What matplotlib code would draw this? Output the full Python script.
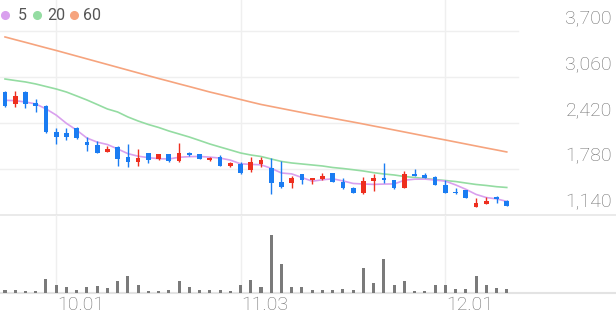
import numpy as np
import pandas as pd
import matplotlib
matplotlib.use('Agg')
import matplotlib.pyplot as plt

plt.rcParams['font.family'] = ['Roboto', 'DejaVu Sans']

# daily candles (50 sessions)
opens = [2851, 2689, 2860, 2698, 2665, 2303, 2289, 2350, 2156, 2118,
         2021, 2094, 1955, 1877, 2003, 1919, 1989, 1891, 2003, 1989,
         1909, 1947, 1830, 1850, 1770, 1850, 1802, 1607, 1594, 1710,
         1631, 1641, 1724, 1607, 1524, 1446, 1617, 1655, 1631, 1524,
         1710, 1701, 1677, 1562, 1468, 1492, 1260, 1297, 1399, 1343]
closes = [2661, 2800, 2684, 2665, 2295, 2225, 2225, 2211, 2118, 2011,
          2058, 1919, 1882, 1941, 1909, 1989, 1895, 2003, 1983, 1923,
          1941, 1830, 1863, 1724, 1886, 1909, 1585, 1538, 1663, 1631,
          1655, 1683, 1607, 1516, 1454, 1617, 1655, 1631, 1524, 1710,
          1691, 1663, 1562, 1454, 1446, 1385, 1307, 1343, 1363, 1269]
highs = [2870, 2869, 2865, 2758, 2675, 2359, 2350, 2373, 2225, 2174,
         2104, 2098, 2132, 2062, 2011, 1992, 1992, 2150, 2025, 1995,
         1951, 1979, 1877, 1877, 1947, 1955, 1941, 1895, 1691, 1715,
         1663, 1724, 1728, 1663, 1527, 1677, 1710, 1872, 1635, 1756,
         1780, 1733, 1680, 1631, 1516, 1495, 1377, 1399, 1402, 1346]
lows = [2650, 2643, 2629, 2573, 2290, 2136, 2188, 2205, 2039, 2005,
        2018, 1826, 1816, 1830, 1863, 1915, 1886, 1882, 1969, 1918,
        1895, 1825, 1816, 1720, 1738, 1816, 1432, 1524, 1516, 1571,
        1571, 1636, 1603, 1510, 1450, 1442, 1478, 1594, 1502, 1520,
        1688, 1660, 1558, 1450, 1443, 1380, 1255, 1294, 1307, 1265]
# volume in thousands of shares
volumes = [40, 40, 28, 28, 168, 100, 68, 40, 68, 80,
           60, 148, 200, 100, 28, 28, 40, 140, 68, 40,
           40, 40, 28, 100, 160, 68, 692, 352, 68, 68,
           40, 40, 40, 48, 32, 300, 120, 408, 100, 148,
           28, 20, 92, 100, 48, 52, 208, 100, 60, 48]

# closes just before the window (for the 5-day average)
prior_closes = [2825, 2779, 2800, 2635]

# 20 and 60 day averages
ma20 = [3036, 3015, 2995, 2967, 2932, 2897, 2855, 2800, 2744, 2682,
        2619, 2577, 2508, 2452, 2403, 2362, 2313, 2271, 2229, 2181,
        2132, 2090, 2049, 2007, 1979, 1958, 1923, 1889, 1868, 1854,
        1840, 1826, 1805, 1791, 1774, 1756, 1733, 1715, 1701, 1680,
        1666, 1652, 1638, 1624, 1610, 1589, 1569, 1555, 1538, 1527]
ma60 = [3621, 3583, 3546, 3508, 3470, 3433, 3394, 3355, 3316, 3277,
        3238, 3199, 3160, 3121, 3082, 3043, 3006, 2968, 2931, 2893,
        2855, 2821, 2786, 2751, 2716, 2682, 2654, 2626, 2598, 2570,
        2542, 2516, 2490, 2463, 2437, 2410, 2382, 2355, 2327, 2299,
        2271, 2243, 2215, 2188, 2160, 2132, 2104, 2076, 2049, 2021]

price_ticks = [1140, 1780, 2420, 3060, 3700]
date_ticks = [5, 23, 43]
date_labels = ['10.01', '11.03', '12.01']

df = pd.DataFrame({'open': opens, 'close': closes, 'high': highs,
                   'low': lows, 'vol': volumes})
ma5 = pd.Series(prior_closes + closes).rolling(5).mean().iloc[len(prior_closes):].values
x = np.arange(len(df))

W, H = 616, 321
fig = plt.figure(figsize=(W / 100, H / 100), dpi=100)
price_bot, vol_bot = 215.3, 293
ax = fig.add_axes([0, 1 - price_bot / H, 1, price_bot / H])
axv = fig.add_axes([0, 1 - vol_bot / H, 1, (vol_bot - price_bot) / H])

xlim = (-5 / 10.24, (W - 5) / 10.24)
for a in (ax, axv):
    a.set_xlim(*xlim)
    a.axis('off')

ax.set_ylim(1140, 4135)
axv.set_ylim(0, max(volumes) * 1.35)

red, blue = '#ee2f1f', '#1a7cf2'
grid_c = '#efefef'

# grid
for t in price_ticks[1:]:
    ax.axhline(t, xmax=518 / W, color=grid_c, lw=1, zorder=0)
for t in date_ticks:
    ax.axvline(t, color=grid_c, lw=1, zorder=0)
    axv.axvline(t, color=grid_c, lw=1, zorder=0)
ax.axhline(1140, color='#e6e6e6', lw=1.2, zorder=0, clip_on=False)
axv.axhline(0, color='#e3e3e3', lw=1.5, zorder=0, clip_on=False)

# moving averages
ax.plot(x, ma60, color='#f6a47e', lw=1.2, zorder=2)
ax.plot(x, ma20, color='#94dca2', lw=1.2, zorder=2)
ax.plot(x, ma5, color='#d9a0ee', lw=1.2, zorder=2)

# candles
up = df['close'] >= df['open']
colors = np.where(up, red, blue)
ax.vlines(x, df['low'], df['high'], colors=colors, lw=1, zorder=3)
body = (df['close'] - df['open']).abs().clip(lower=14)
ax.bar(x, body, bottom=df[['open', 'close']].min(axis=1), width=0.46,
       color=colors, zorder=4)

# volume
axv.bar(x, df['vol'], width=0.3, color='#7a7a7a', zorder=2)

# price labels on the right
for t in price_ticks:
    ax.annotate(f'{t:,}', xy=(612 / W, t), xycoords=('axes fraction', 'data'),
                xytext=(0, 9.6), textcoords='offset points', ha='right',
                va='center', fontsize=14, fontweight='light', color='#6e6e6e')

# date labels
for t, lab in zip(date_ticks, date_labels):
    axv.annotate(lab, xy=(t, 0), xycoords='data', xytext=(0.6, -9),
                 textcoords='offset points', ha='left', va='center',
                 fontsize=14, fontweight='light', color='#6e6e6e')

# legend
leg = [('5', '#d9a0ee', 5, 18), ('20', '#94dca2', 37, 47), ('60', '#f6a47e', 74, 83)]
for lab, c, dx, tx in leg:
    fig.lines.append(plt.Line2D([dx / W], [1 - 15 / H], marker='o', ms=5.5,
                                color=c, transform=fig.transFigure))
    fig.text(tx / W, 1 - 15 / H, lab, ha='left', va='center', fontsize=11.5,
             color='#555555')

fig.savefig('out.png', dpi=100)
